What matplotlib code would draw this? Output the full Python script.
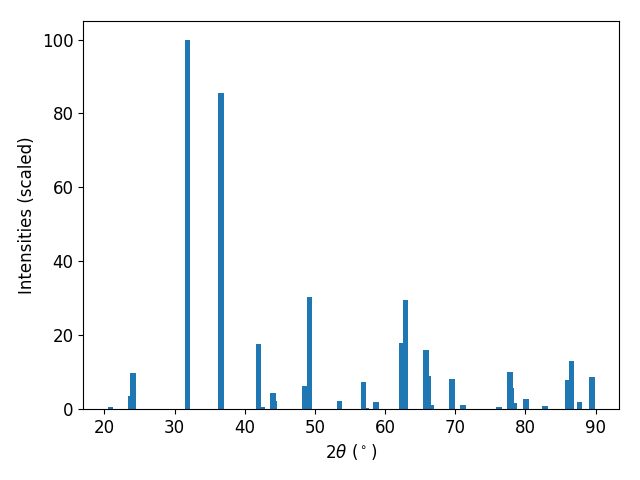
import matplotlib
matplotlib.use("Agg")
import matplotlib.pyplot as plt

# peak positions (2theta, degrees) and scaled intensities
two_theta = [20.85, 23.8, 24.1, 31.82, 36.6, 42.45, 41.94, 44.07, 44.24,
             48.6, 49.23, 53.5, 56.9, 57.3, 58.75, 62.4, 62.9, 65.87,
             66.17, 66.6, 69.57, 71.07, 76.27, 77.8, 78.0, 78.4, 80.1,
             82.75, 86.06, 86.55, 87.7, 89.45]
intensity = [0.6, 3.5, 9.8, 100.0, 85.6, 0.4, 17.6, 4.3, 2.2,
             6.2, 30.3, 2.2, 7.3, 0.3, 1.9, 17.9, 29.5, 16.0,
             8.9, 1.1, 8.1, 1.1, 0.5, 10.0, 5.7, 1.6, 2.7,
             0.8, 7.9, 13.0, 1.9, 8.7]

plt.rcParams["font.size"] = 12

fig, ax = plt.subplots(figsize=(6.4, 4.8), dpi=100)
ax.bar(two_theta, intensity, width=0.8)
ax.set_xlabel(r"2$\theta$ ($^\circ$)")
ax.set_ylabel("Intensities (scaled)")
fig.subplots_adjust(left=0.13, right=0.967, top=0.956, bottom=0.148)
fig.savefig("out.png")
plt.close(fig)
